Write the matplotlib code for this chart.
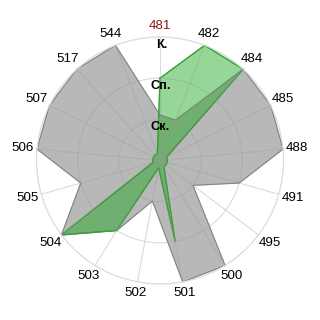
import numpy as np
import matplotlib
matplotlib.use('Agg')
import matplotlib.pyplot as plt

plt.rcParams['font.family'] = ['Liberation Sans', 'DejaVu Sans']

categories = ['481', '482', '484', '485', '488', '491', '495', '500', '501',
              '502', '503', '504', '505', '506', '507', '517', '544']
grey_vals = [1.1, 1.05, 3, 3, 3, 2, 1, 3, 3, 1, 2, 3, 2, 3, 3, 3, 3]
green_vals = [2, 3, 3, 0.18, 0.18, 0.18, 0.18, 0.18, 2, 0.18, 2, 3,
              0.18, 0.18, 0.18, 0.18, 0.18]
level_vals = [1, 2, 3]
level_labels = ['Ск.', 'Сп.', 'К.']

n = len(categories)
theta = np.arange(n) * 2 * np.pi / n
t_closed = np.append(theta, theta[0])

fig = plt.figure(figsize=(3.2, 3.2), dpi=100)
ax = fig.add_axes([0.1141, 0.1125, 0.772, 0.772], projection='polar')
ax.set_theta_zero_location('N')
ax.set_theta_direction(-1)
ax.set_ylim(0, 3)

# grey series first, green on top with transparency
g = np.append(grey_vals, grey_vals[0])
ax.fill(t_closed, g, color='#b8b8b8', zorder=1, clip_on=False)
ax.plot(t_closed, g, color='#808080', lw=0.7, zorder=1.2, clip_on=False)

gr = np.append(green_vals, green_vals[0])
ax.fill(t_closed, gr, color='#16a516', alpha=0.45, zorder=1.1, clip_on=False)
ax.plot(t_closed, gr, color='#3c9c3c', lw=0.9, zorder=1.3, clip_on=False)

ax.set_xticks(theta)
ax.set_xticklabels([])
ax.set_yticks(level_vals)
ax.set_yticklabels([])
ax.grid(color='#999999', alpha=0.35, lw=0.8)
ax.spines['polar'].set_color('#dcdcdc')
ax.spines['polar'].set_linewidth(0.8)

for t, lab in zip(theta, categories):
    r = 3.27 + 0.08 * abs(np.sin(t))
    col = '#8b1a1a' if lab == '481' else 'black'
    ax.text(t, r, lab, ha='center', va='center', fontsize=9.6, color=col,
            clip_on=False)

for v, lab in zip(level_vals, level_labels):
    ax.text(0.012, v - 0.19, lab, ha='center', va='center', fontsize=9.2,
            fontweight='bold', color='black', zorder=5)

fig.savefig('out.png', dpi=100)
